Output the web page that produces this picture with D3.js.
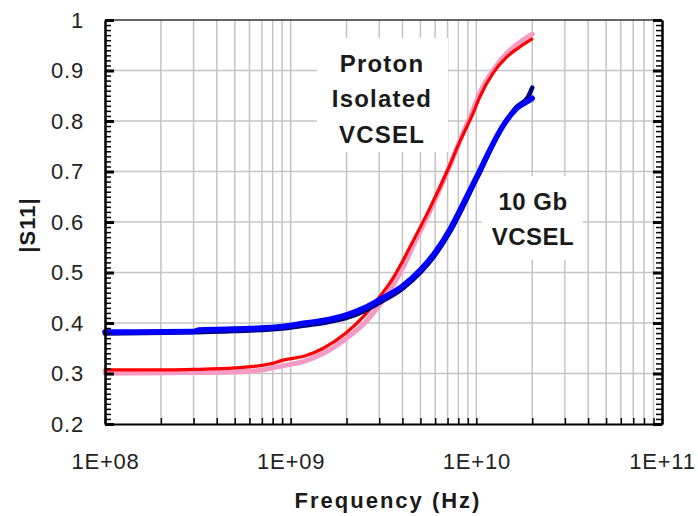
<!DOCTYPE html>
<html lang="en">
<head>
  <meta charset="UTF-8">
  <title>|S11| vs Frequency</title>
  <script src="https://d3js.org/d3.v7.min.js"></script>
  <style>
    body { margin: 0; background: white; font-family: "Liberation Sans", Arial, sans-serif; }
    .grid line { stroke: #c4c4c4; stroke-width: 1.5px; }
    .axis path { stroke: #000; stroke-width: 2px; }
    .axis line { stroke: #000; }
    .axis text { font-family: "Liberation Sans", Arial, sans-serif; font-size: 22px; fill: #222; letter-spacing: 0.8px; }
    .label { font-family: "Liberation Sans", Arial, sans-serif; font-weight: bold; fill: #1a1a1a; }
    .trace { fill: none; stroke-linejoin: round; stroke-linecap: round; }
  </style>
</head>
<body>
  <svg width="698" height="516"></svg>

  <script>
    // tick labels
    const yTicks = [0.2, 0.3, 0.4, 0.5, 0.6, 0.7, 0.8, 0.9, 1];
    const xTicks = [1e8, 1e9, 1e10, 1e11];
    const xTickLabels = ["1E+08", "1E+09", "1E+10", "1E+11"];

    // proton isolated VCSEL, red trace
    const protonFreq = [1e8, 2e8, 3e8, 5e8, 7e8, 8e8, 9e8, 1.2e9, 1.5e9, 2e9, 2.5e9, 3e9, 3.56e9, 4e9, 4.56e9, 5.63e9, 6.95e9, 8.17e9, 9.6e9, 1.045e10, 1.23e10, 1.46e10, 1.72e10, 1.99e10];
    const protonS11 = [0.307, 0.307, 0.308, 0.311, 0.316, 0.32, 0.326, 0.335, 0.35, 0.381, 0.415, 0.451, 0.489, 0.522, 0.562, 0.628, 0.7, 0.76, 0.815, 0.848, 0.895, 0.927, 0.947, 0.962];

    // proton isolated VCSEL, pink trace
    const protonFreq2 = [1e8, 3e8, 5e8, 7e8, 9e8, 1.2e9, 1.5e9, 2e9, 2.5e9, 3e9, 3.56e9, 4e9, 4.56e9, 5.63e9, 6.95e9, 8.17e9, 9.6e9, 1.045e10, 1.23e10, 1.46e10, 1.72e10, 2e10];
    const protonS11b = [0.301, 0.302, 0.303, 0.307, 0.315, 0.325, 0.34, 0.37, 0.4, 0.435, 0.475, 0.508, 0.552, 0.622, 0.698, 0.762, 0.822, 0.856, 0.9, 0.934, 0.956, 0.972];

    // 10 Gb VCSEL, blue trace
    const gbFreq = [1e8, 3e8, 3.2e8, 6e8, 9e8, 1.2e9, 1.5e9, 2e9, 2.5e9, 3e9, 4e9, 5e9, 6e9, 7.2e9, 8.47e9, 1.006e10, 1.18e10, 1.39e10, 1.65e10, 1.95e10, 2e10];
    const gbS11 = [0.382, 0.383, 0.386, 0.389, 0.393, 0.4, 0.405, 0.416, 0.43, 0.446, 0.473, 0.505, 0.54, 0.585, 0.635, 0.69, 0.742, 0.79, 0.825, 0.842, 0.845];

    // 10 Gb VCSEL, navy trace
    const gbFreq2 = [1e8, 5e8, 9e8, 1.2e9, 1.5e9, 2e9, 2.5e9, 3e9, 4e9, 5e9, 6e9, 7.2e9, 1.006e10, 1.39e10, 1.65e10, 1.9e10, 2e10];
    const gbS11b = [0.379, 0.384, 0.389, 0.395, 0.4, 0.41, 0.424, 0.44, 0.468, 0.5, 0.535, 0.58, 0.686, 0.79, 0.828, 0.848, 0.866];

    const svg = d3.select("svg");
    const margin = {top: 20, right: 36, bottom: 92, left: 105};
    const width = 698 - margin.left - margin.right,
          height = 516 - margin.top - margin.bottom;

    const x = d3.scaleLog().domain([1e8, 1e11]).range([margin.left, margin.left + width]);
    const y = d3.scaleLinear().domain([0.2, 1]).range([margin.top + height, margin.top]);

    const minorX = [];
    for (let d = 8; d <= 10; d++) {
      for (let k = 1; k <= 9; k++) minorX.push(k * Math.pow(10, d));
    }
    minorX.push(1e11);
    const minorY = d3.range(20, 101).map(v => v / 100);

    // grid
    const grid = svg.append("g").attr("class", "grid");
    grid.selectAll(".vg")
      .data(minorX.filter(f => f > 1e8 && f < 1e11))
      .enter().append("line")
      .attr("x1", d => x(d)).attr("x2", d => x(d))
      .attr("y1", y(1)).attr("y2", y(0.2));
    grid.selectAll(".hg")
      .data(yTicks.filter(v => v > 0.2 && v < 1))
      .enter().append("line")
      .attr("x1", x(1e8)).attr("x2", x(1e11))
      .attr("y1", d => y(d)).attr("y2", d => y(d));

    // white label boxes
    svg.append("rect").attr("x", 317).attr("y", 38).attr("width", 131).attr("height", 114).attr("fill", "white");
    svg.append("rect").attr("x", 482).attr("y", 176).attr("width", 101).attr("height", 84).attr("fill", "white");

    // traces
    const line = (fs, vs) => d3.line()
      .x((d, i) => x(fs[i]))
      .y(d => y(d))
      .curve(d3.curveMonotoneX)(vs);

    svg.append("path").attr("class", "trace").attr("d", line(protonFreq2, protonS11b))
      .attr("stroke", "#f59ac4").attr("stroke-width", 5);
    svg.append("path").attr("class", "trace").attr("d", line(protonFreq, protonS11))
      .attr("stroke", "#ff0000").attr("stroke-width", 3.2);
    svg.append("path").attr("class", "trace").attr("d", line(gbFreq2, gbS11b))
      .attr("stroke", "#000080").attr("stroke-width", 4.5);
    svg.append("path").attr("class", "trace").attr("d", line(gbFreq, gbS11))
      .attr("stroke", "#0000ff").attr("stroke-width", 5.5);

    // top border
    svg.append("line")
      .attr("x1", x(1e8)).attr("x2", x(1e11))
      .attr("y1", y(1)).attr("y2", y(1))
      .attr("stroke", "#333").attr("stroke-width", 1.5);

    // minor / major ticks
    const leftMinor = svg.append("g").attr("class", "axis")
      .attr("transform", `translate(${margin.left},0)`)
      .call(d3.axisLeft(y).tickValues(minorY).tickSize(-6).tickSizeOuter(0).tickFormat(""));
    leftMinor.selectAll("line").attr("stroke-width", 1.5);
    const leftMajor = svg.append("g").attr("class", "axis")
      .attr("transform", `translate(${margin.left},0)`)
      .call(d3.axisLeft(y).tickValues(yTicks).tickSize(-9).tickSizeOuter(0).tickFormat(""));
    leftMajor.selectAll("line").attr("stroke-width", 3);

    const rightMinor = svg.append("g").attr("class", "axis")
      .attr("transform", `translate(${margin.left + width},0)`)
      .call(d3.axisRight(y).tickValues(minorY).tickSize(-6).tickSizeOuter(0).tickFormat(""));
    rightMinor.selectAll("line").attr("stroke-width", 1.5);
    const rightMajor = svg.append("g").attr("class", "axis")
      .attr("transform", `translate(${margin.left + width},0)`)
      .call(d3.axisRight(y).tickValues(yTicks).tickSize(-9).tickSizeOuter(0).tickFormat(""));
    rightMajor.selectAll("line").attr("stroke-width", 3);

    const bottomMinor = svg.append("g").attr("class", "axis")
      .attr("transform", `translate(0,${margin.top + height})`)
      .call(d3.axisBottom(x).tickValues(minorX).tickSize(-6).tickSizeOuter(0).tickFormat(""));
    bottomMinor.selectAll("line").attr("stroke-width", 1.5);

    // tick labels
    const yLabels = svg.append("g").attr("class", "axis")
      .attr("transform", `translate(${margin.left},0)`)
      .call(d3.axisLeft(y).tickValues(yTicks).tickSize(0).tickPadding(21).tickFormat(d3.format("")));
    yLabels.select(".domain").remove();

    const xLabels = svg.append("g").attr("class", "axis")
      .attr("transform", `translate(0,${margin.top + height})`)
      .call(d3.axisBottom(x).tickValues(xTicks).tickSize(0).tickPadding(29)
        .tickFormat((d, i) => xTickLabels[i]));
    xLabels.select(".domain").remove();

    // axis titles
    svg.append("text").attr("class", "label")
      .attr("x", 388).attr("y", 508)
      .attr("text-anchor", "middle")
      .style("font-size", "22px").style("letter-spacing", "2px")
      .text("Frequency (Hz)");

    svg.append("text").attr("class", "label")
      .attr("transform", "translate(35,225) rotate(-90)")
      .attr("text-anchor", "middle")
      .style("font-size", "22px").style("letter-spacing", "1px")
      .text("|S11|");

    // curve labels
    const protonLines = ["Proton", "Isolated", "VCSEL"];
    const protonBase = [72, 107, 143];
    svg.selectAll(".pl").data(protonLines).enter().append("text")
      .attr("class", "label")
      .attr("x", 382).attr("y", (d, i) => protonBase[i])
      .attr("text-anchor", "middle")
      .style("font-size", "24px").style("letter-spacing", "1.2px")
      .text(d => d);

    const gbLines = ["10 Gb", "VCSEL"];
    const gbBase = [210, 245];
    svg.selectAll(".gl").data(gbLines).enter().append("text")
      .attr("class", "label")
      .attr("x", 533).attr("y", (d, i) => gbBase[i])
      .attr("text-anchor", "middle")
      .style("font-size", "24px").style("letter-spacing", "0.5px")
      .text(d => d);
  </script>
</body>
</html>
